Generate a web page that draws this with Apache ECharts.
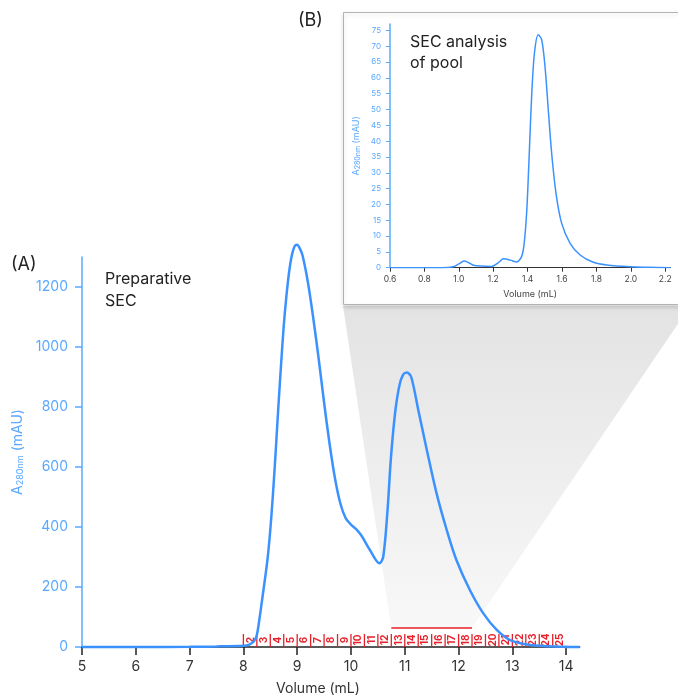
<!DOCTYPE html>
<html><head><meta charset="utf-8">
<script src="https://cdn.jsdelivr.net/npm/echarts/dist/echarts.min.js"></script>
<style>html,body{margin:0;padding:0;background:#fff}#c{width:678px;height:696px}</style>
</head><body><div id="c"></div>
<script>
// ---- Preparative SEC (A) ----
const mainVolume = [5, 6, 7, 7.5, 8.0, 8.1, 8.2, 8.25, 8.3, 8.35, 8.4, 8.45, 8.5, 8.55, 8.6, 8.65, 8.7, 8.75, 8.8, 8.85, 8.9, 8.95, 9.0, 9.05, 9.1, 9.2, 9.3, 9.4, 9.5, 9.6, 9.7, 9.8, 9.9, 10.0, 10.1, 10.2, 10.35, 10.53, 10.6, 10.68, 10.74, 10.82, 10.9, 10.97, 11.04, 11.12, 11.25, 11.41, 11.59, 11.78, 11.96, 12.21, 12.46, 12.71, 12.96, 13.33, 13.95, 14.25];
const mainAbs = [0, 0, 0.5, 2, 4.5, 7, 20, 40, 95, 160, 225, 295, 390, 510, 650, 800, 940, 1070, 1170, 1250, 1305, 1335, 1341, 1328, 1305, 1215, 1095, 960, 815, 680, 565, 480, 430, 408, 392, 370, 324, 279, 301, 457, 624, 780, 872, 908, 915, 900, 791, 657, 513, 390, 290, 190, 112, 57, 23, 7, 1, 0];
const mainXTicks = [5, 6, 7, 8, 9, 10, 11, 12, 13, 14];
const mainYTicks = [0, 200, 400, 600, 800, 1000, 1200];

// fractions
const fractionEdges = [8.0, 8.25, 8.5, 8.75, 9.0, 9.25, 9.5, 9.75, 10.0, 10.25, 10.5, 10.75, 11.0, 11.25, 11.5, 11.75, 12.0, 12.25, 12.5, 12.75, 13.0, 13.25, 13.5, 13.75, 14.0];
const fractionLabels = ['2','3','4','5','6','7','8','9','10','11','12','13','14','15','16','17','18','19','20','21','22','23','24','25'];
const poolRange = [10.75, 12.25];
const poolLevel = 63;

// ---- SEC analysis of pool (B) ----
const insetVolume = [0.6, 0.9, 0.968, 1.0, 1.03, 1.06, 1.085, 1.13, 1.19, 1.23, 1.26, 1.30, 1.336, 1.365, 1.38, 1.395, 1.408, 1.424, 1.44, 1.462, 1.482, 1.501, 1.52, 1.54, 1.565, 1.598, 1.647, 1.705, 1.782, 1.86, 1.995, 2.1, 2.23];
const insetAbs = [0, 0, 0.3, 1.2, 2.1, 1.5, 0.8, 0.5, 0.4, 1.6, 2.8, 2.4, 1.8, 3.5, 7.7, 18, 34, 55, 68, 73.6, 72, 63.6, 50, 36, 23.5, 14, 7.7, 4, 1.7, 0.85, 0.3, 0.15, 0];
const insetXTicks = [0.6, 0.8, 1.0, 1.2, 1.4, 1.6, 1.8, 2.0, 2.2];
const insetYTicks = [0, 5, 10, 15, 20, 25, 30, 35, 40, 45, 50, 55, 60, 65, 70, 75];

const FONT = 'Inter, "Noto Sans", sans-serif';
const BLUE = '#3b92ff';
const LBLUE = '#5aa8ff';
const RED = '#e8202a';

const fracData = fractionLabels.map((l, i) => [fractionEdges[i], fractionEdges[i + 1], l]);

const chart = echarts.init(document.getElementById('c'), null, {renderer: 'canvas'});

const option = {
  animation: false,
  backgroundColor: '#fff',
  textStyle: {fontFamily: FONT},
  grid: [
    {left: 82, top: 257, width: 497.6, height: 390},
    {left: 390, top: 24, width: 280.4, height: 243.7}
  ],
  xAxis: [
    {type: 'value', gridIndex: 0, min: 5, max: 14.25,
     axisLine: {show: true, lineStyle: {color: '#222', width: 1.5}},
     axisTick: {show: true, customValues: mainXTicks, length: 8, lineStyle: {color: '#222', width: 1.5}},
     axisLabel: {customValues: mainXTicks, color: '#333', fontSize: 14, margin: 13, fontFamily: FONT},
     splitLine: {show: false}},
    {type: 'value', gridIndex: 1, min: 0.6, max: 2.23,
     axisLine: {show: true, lineStyle: {color: '#333', width: 1}},
     axisTick: {show: true, customValues: insetXTicks, length: 4, lineStyle: {color: '#333'}},
     axisLabel: {customValues: insetXTicks, color: '#444', fontSize: 8.5, margin: 7, fontFamily: FONT,
                 formatter: v => v.toFixed(1)},
     splitLine: {show: false},
     name: 'Volume (mL)', nameLocation: 'middle', nameGap: 22,
     nameTextStyle: {color: '#444', fontSize: 9, fontFamily: FONT}}
  ],
  yAxis: [
    {type: 'value', gridIndex: 0, min: 0, max: 1300,
     axisLine: {show: true, lineStyle: {color: LBLUE, width: 1.5}},
     axisTick: {show: true, customValues: mainYTicks, length: 7, lineStyle: {color: LBLUE, width: 1.5}},
     axisLabel: {customValues: mainYTicks, color: LBLUE, fontSize: 14, margin: 14, fontFamily: FONT,
                 formatter: v => String(v)},
     splitLine: {show: false},
     name: '{a|A}{s|280nm}{a| (mAU)}', nameLocation: 'middle', nameGap: 54,
     nameTextStyle: {rich: {a: {fontSize: 14, color: LBLUE, fontFamily: FONT},
                            s: {fontSize: 9, color: LBLUE, fontFamily: FONT, padding: [5, 0, 0, 0]}}}},
    {type: 'value', gridIndex: 1, min: 0, max: 77,
     axisLine: {show: true, lineStyle: {color: LBLUE, width: 1.5}},
     axisTick: {show: true, customValues: insetYTicks, length: 4, lineStyle: {color: LBLUE}},
     axisLabel: {customValues: insetYTicks, color: LBLUE, fontSize: 8, margin: 9, fontFamily: FONT,
                 formatter: v => String(v)},
     splitLine: {show: false},
     name: '{a|A}{s|280nm}{a| (mAU)}', nameLocation: 'middle', nameGap: 29,
     nameTextStyle: {rich: {a: {fontSize: 9, color: LBLUE, fontFamily: FONT},
                            s: {fontSize: 7, color: LBLUE, fontFamily: FONT, padding: [3, 0, 0, 0]}}}}
  ],
  series: [
    {type: 'line', xAxisIndex: 0, yAxisIndex: 0, data: mainVolume.map((v, i) => [v, mainAbs[i]]),
     showSymbol: false, smooth: 0.3, clip: false, lineStyle: {color: BLUE, width: 2.5}, z: 5},
    {type: 'custom', xAxisIndex: 0, yAxisIndex: 0, data: fracData, z: 4,
     renderItem: function (params, api) {
       const p0 = api.coord([api.value(0), 0]);
       const p1 = api.coord([api.value(1), 0]);
       return {type: 'group', children: [
         {type: 'line', shape: {x1: p0[0], y1: p0[1], x2: p0[0], y2: p0[1] - 13},
          style: {stroke: RED, lineWidth: 1.3}},
         {type: 'text', x: (p0[0] + p1[0]) / 2 + 0.5, y: p0[1] - 7, rotation: Math.PI / 2,
          style: {text: fracData[params.dataIndex][2], fill: RED, font: 'bold 10px ' + FONT,
                  align: 'center', verticalAlign: 'middle'}}
       ]};
     }},
    {type: 'line', xAxisIndex: 0, yAxisIndex: 0, data: [[poolRange[0], poolLevel], [poolRange[1], poolLevel]],
     showSymbol: false, lineStyle: {color: RED, width: 1.5}, z: 4},
    {type: 'line', xAxisIndex: 1, yAxisIndex: 1, data: insetVolume.map((v, i) => [v, insetAbs[i]]),
     showSymbol: false, smooth: 0.3, lineStyle: {color: BLUE, width: 1.5}, z: 5}
  ]
};
chart.setOption(option);

const pa = chart.convertToPixel({gridIndex: 0}, [poolRange[0], poolLevel]);
const pb = chart.convertToPixel({gridIndex: 0}, [poolRange[1], poolLevel]);

chart.setOption({
  graphic: [
    {type: 'polygon', z: -2, silent: true,
     shape: {points: [[343, 306], [690, 306], [pb[0], pb[1]], [pa[0], pa[1]]]},
     style: {fill: new echarts.graphic.LinearGradient(0, 0, 0, 1, [
       {offset: 0, color: '#e3e3e3'}, {offset: 1, color: '#f8f8f8'}])}},
    {type: 'rect', z: -1, silent: true,
     shape: {x: 343.5, y: 12.5, width: 345, height: 292},
     style: {fill: '#fff', stroke: '#b3b3b3', lineWidth: 1,
             shadowBlur: 4, shadowOffsetY: 2, shadowColor: 'rgba(0,0,0,0.15)'}},
    {type: 'text', left: 11, top: 256, style: {text: '(A)', font: '18px ' + FONT, fill: '#222'}},
    {type: 'text', left: 105, top: 268, style: {text: 'Preparative\nSEC', font: '16px ' + FONT, fill: '#222', lineHeight: 22}},
    {type: 'text', left: 298, top: 12, style: {text: '(B)', font: '18px ' + FONT, fill: '#222'}},
    {type: 'text', left: 410, top: 32, style: {text: 'SEC analysis\nof pool', font: '16px ' + FONT, fill: '#222', lineHeight: 21}},
    {type: 'text', x: 318, y: 689, style: {text: 'Volume (mL)', font: '14px ' + FONT, fill: '#333', align: 'center', verticalAlign: 'middle'}}
  ]
});
</script></body></html>
